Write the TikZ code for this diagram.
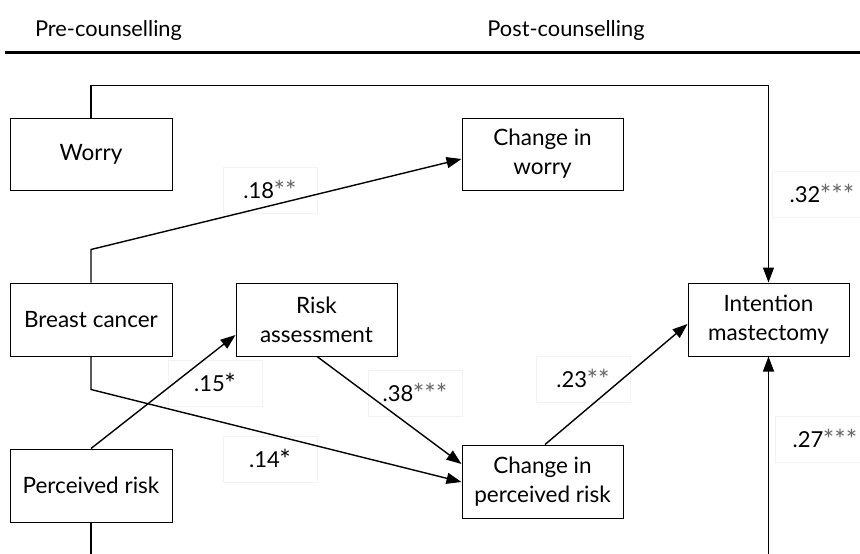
\documentclass[tikz,border=0pt]{standalone}
\usepackage{fontspec}
\setmainfont{Lato}
\usetikzlibrary{arrows.meta}
\newcommand\stars[1]{{\fontsize{27}{27}\selectfont\kern-0.5pt\raisebox{-2pt}{\textcolor{black!60}{#1}}}}
\newcommand\bstar{{\fontsize{27}{27}\selectfont\kern-0.5pt\raisebox{-2pt}{*}}}
\begin{document}
\begin{tikzpicture}[x=1pt,y=-1pt,
  varbox/.style={draw, line width=1pt, align=center, inner sep=0pt,
    font=\fontsize{22.5}{29}\selectfont},
  lbl/.style={draw=black!5, fill=white, line width=0.6pt, inner sep=0pt,
    minimum width=94pt, minimum height=46pt, font=\fontsize{22}{24}\selectfont},
  conn/.style={line width=1.4pt},
  arr/.style={conn, -{Triangle[length=15pt,width=11pt]}},
  hdr/.style={font=\fontsize{21.8}{24}\selectfont, inner sep=0pt}]
\useasboundingbox (0,0) rectangle (860,554);
\clip (0,0) rectangle (860,554);
\node[hdr] (pre) at (108.5,30) {Pre-counselling};
\node[hdr] (post) at (566,30) {Post-counselling};
\draw[line width=3pt] (5,52) -- (860,52);

\node[varbox, minimum width=162pt, minimum height=72pt] (worry) at (91,154) {Worry};
\node[varbox, minimum width=161pt, minimum height=72pt] (cw) at (542.5,154) {Change in\\worry};
\node[varbox, minimum width=162pt, minimum height=73pt] (bc) at (91,319.5) {Breast cancer};
\node[varbox, minimum width=161pt, minimum height=73pt] (ra) at (316.5,319.5) {Risk\\assessment};
\node[varbox, minimum width=161pt, minimum height=73pt] (im) at (768.5,319.5) {Intention\\mastectomy};
\node[varbox, minimum width=162pt, minimum height=73pt] (pr) at (91,485.5) {Perceived risk};
\node[varbox, minimum width=161pt, minimum height=73pt] (cpr) at (542.5,481.5) {Change in\\perceived risk};

\node[lbl] (l18) at (270,190.5) {.18\stars{**}};
\node[lbl, minimum width=100pt] (l32) at (822,194.5) {.32\stars{***}};
\node[lbl] (l15) at (215,383) {.15\bstar};
\node[lbl] (l38) at (415,393) {.38\stars{***}};
\node[lbl] (l14) at (270,459) {.14\bstar};
\node[lbl] (l23) at (583,379.5) {.23\stars{**}};
\node[lbl, minimum width=100pt] (l27) at (825,439) {.27\stars{***}};

\draw[arr] (worry.north) -- ++(0,-32) -| (im.north);
\draw[arr] (bc.north) -- ++(0,-33) -- ([yshift=-5pt]cw.west);
\draw[arr] (bc.south) -- ++(0,33) -- ([yshift=-0.5pt]cpr.west);
\draw[arr] (pr.north) -- ([yshift=-15.5pt]ra.west);
\draw[arr] ([xshift=0.5pt]ra.south) -- ([yshift=17.5pt]cpr.west);
\draw[arr] ([xshift=2.5pt]cpr.north) -- ([yshift=-4.5pt]im.west);
\draw[arr] (pr.south) -- ++(0,40) -| (im.south);
\end{tikzpicture}
\end{document}
